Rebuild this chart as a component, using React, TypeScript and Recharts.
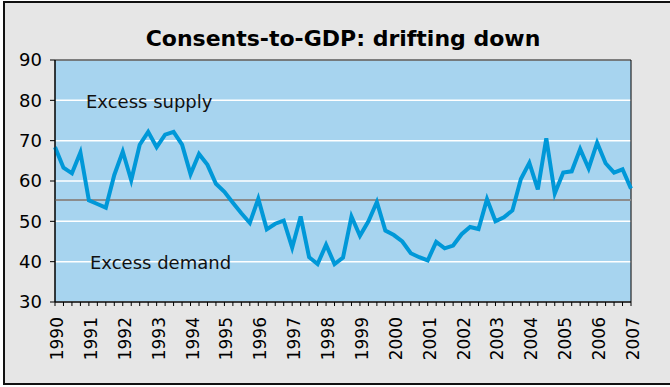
import React from "react";
import {
  LineChart,
  Line,
  XAxis,
  YAxis,
  CartesianGrid,
  ReferenceLine,
  ReferenceArea,
} from "recharts";

// year labels on the x axis, one point per quarter
const yearLabels = [
  "1990", "1991", "1992", "1993", "1994", "1995", "1996", "1997", "1998",
  "1999", "2000", "2001", "2002", "2003", "2004", "2005", "2006", "2007",
];

// consents-to-GDP, quarterly, 1990Q1 .. 2007Q1
const consentsToGdp = [
  68.4, 63.3, 61.9, 67.1, 55.2, 54.3, 53.4, 61.5, 67.3, 60.2,
  69.0, 72.2, 68.4, 71.5, 72.2, 69.0, 61.7, 66.7, 64.0, 59.3,
  57.3, 54.6, 52.0, 49.6, 55.6, 48.0, 49.4, 50.2, 43.5, 51.2,
  41.1, 39.4, 44.2, 39.4, 41.0, 51.2, 46.4, 50.0, 54.8, 47.7,
  46.6, 45.0, 42.1, 41.1, 40.3, 44.9, 43.3, 44.0, 46.8, 48.6,
  48.1, 55.5, 50.0, 51.0, 52.7, 60.5, 64.5, 57.9, 70.6, 56.9,
  62.1, 62.4, 67.9, 63.1, 69.5, 64.4, 62.1, 62.9, 58.1,
];

const longRunAverage = 55.3;
const yTicks = [30, 40, 50, 60, 70, 80, 90];

const quarterLabels = yearLabels
  .flatMap((y) => ["Q1", "Q2", "Q3", "Q4"].map((q) => y + q))
  .slice(0, consentsToGdp.length);

const data = quarterLabels.map((q, i) => ({ q, value: consentsToGdp[i] }));

const FONT = "'DejaVu Sans', Verdana, sans-serif";

const YearTick = (props: any) => {
  const { x, y, payload } = props;
  const label: string = payload.value;
  if (!label.endsWith("Q1")) return <g />;
  return (
    <g transform={`translate(${x + 8},${y + 9}) rotate(-90)`}>
      <text x={0} y={0} textAnchor="end" fontFamily={FONT} fontSize={17} fill="#000">
        {label.slice(0, 4)}
      </text>
    </g>
  );
};

const App = () => {
  return (
    <div style={{ position: "absolute", left: 0, top: 0, width: 670, height: 387, background: "#fff", overflow: "hidden" }}>
      <div
        style={{
          position: "absolute",
          left: 3,
          top: 1,
          width: 680,
          height: 384,
          boxSizing: "border-box",
          background: "#e6e6e6",
          borderTop: "2px solid #111",
          borderLeft: "2px solid #111",
          borderBottom: "2px solid #111",
        }}
      />
      <svg style={{ position: "absolute", left: 0, top: 0 }} width={670} height={60}>
        <text x={343} y={46} textAnchor="middle" fontFamily={FONT} fontWeight="bold" fontSize={22} fill="#000">
          Consents-to-GDP: drifting down
        </text>
      </svg>
      <div style={{ position: "absolute", left: 0, top: 0 }}>
        <LineChart
          width={670}
          height={387}
          data={data}
          margin={{ top: 60, right: 39, left: 10, bottom: 25 }}
        >
          <CartesianGrid vertical={false} stroke="#fff" strokeWidth={1.5} fill="#a7d4ef" fillOpacity={1} />
          <XAxis
            dataKey="q"
            interval={0}
            height={60}
            tickSize={4}
            tickLine={{ stroke: "#000" }}
            axisLine={{ stroke: "#000" }}
            tick={<YearTick />}
          />
          <YAxis
            domain={[30, 90]}
            ticks={yTicks}
            width={45}
            tickSize={5}
            tickMargin={8}
            tickLine={{ stroke: "#000" }}
            axisLine={{ stroke: "#000" }}
            tick={{ fontFamily: FONT, fontSize: 18, fill: "#000" }}
          />
          <ReferenceArea
            x1={quarterLabels[0]}
            x2={quarterLabels[quarterLabels.length - 1]}
            y1={30}
            y2={90}
            fill="none"
            stroke="#000"
            strokeWidth={1}
          />
          <ReferenceLine
            y={80}
            stroke="none"
            label={{ value: "Excess supply", position: "insideLeft", dx: 26, dy: 1, fontFamily: FONT, fontSize: 18, fill: "#111" }}
          />
          <ReferenceLine
            y={40}
            stroke="none"
            label={{ value: "Excess demand", position: "insideLeft", dx: 30, dy: 1, fontFamily: FONT, fontSize: 18, fill: "#111" }}
          />
          <ReferenceLine y={longRunAverage} stroke="#8c8c8c" strokeWidth={2} />
          <Line
            type="linear"
            dataKey="value"
            stroke="#0098d8"
            strokeWidth={4}
            dot={false}
            isAnimationActive={false}
          />
        </LineChart>
      </div>
    </div>
  );
};

export default App;
